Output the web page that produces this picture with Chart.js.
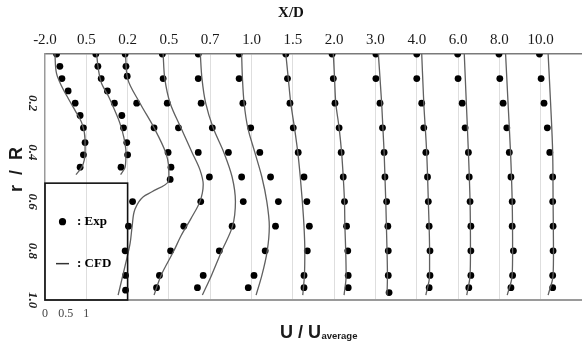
<!DOCTYPE html>
<html><head><meta charset="utf-8">
<script src="https://cdn.jsdelivr.net/npm/chart.js@4.4.1/dist/chart.umd.min.js"></script>
<style>html,body{margin:0;padding:0;background:#fff;}canvas{display:block;}</style>
</head><body>
<canvas id="c" width="582" height="347"></canvas>
<script>
// X/D station labels (one profile per station, each shifted by one unit)
const stations = ['-2.0','0.5','0.2','0.5','0.7','1.0','1.5','2.0','3.0','4.0','6.0','8.0','10.0'];
const yTicks = [0.2, 0.4, 0.6, 0.8, 1.0];
const uTicks = [0, 0.5, 1];

// r/R positions of the experimental points
const rExpNear = [0,0.05,0.1,0.15,0.2,0.25,0.3,0.36,0.41,0.46];
const rExp02   = [0,0.05,0.09,0.2,0.3,0.4,0.46,0.51,0.6,0.7,0.8,0.9,0.96];
const rExpFar  = [0,0.1,0.2,0.3,0.4,0.5,0.6,0.7,0.8,0.9,0.95];
const rExp30   = [0,0.1,0.2,0.3,0.4,0.5,0.6,0.7,0.8,0.9,0.97];

// Exp: U/Uaverage (relative to each station's base line)
const expU0  = [0.28,0.36,0.41,0.56,0.73,0.85,0.93,0.97,0.93,0.85];
const expU1  = [0.23,0.28,0.36,0.51,0.68,0.86,0.90,0.98,1.00,0.84];
const expU2  = [-0.06,-0.04,-0.01,0.22,0.64,0.98,1.05,1.03,0.12,0.02,-0.06,-0.05,-0.05];
const expU3  = [-0.16,-0.14,-0.04,0.23,0.71,0.98,0.77,0.36,0.04,-0.23,-0.30];
const expU4  = [-0.29,-0.29,-0.22,0.05,0.44,0.76,0.80,0.53,0.22,-0.17,-0.31];
const expU5  = [-0.30,-0.30,-0.21,-0.02,0.20,0.46,0.65,0.58,0.33,0.06,-0.08];
const expU6  = [-0.17,-0.13,-0.07,0.01,0.13,0.27,0.34,0.40,0.35,0.27,0.27];
const expU7  = [-0.05,-0.02,0.02,0.12,0.17,0.22,0.25,0.30,0.33,0.34,0.34];
const expU8  = [0.01,0.01,0.11,0.17,0.21,0.23,0.27,0.30,0.31,0.31,0.33];
const expU9  = [0.00,0.00,0.12,0.17,0.22,0.26,0.28,0.30,0.32,0.32,0.30];
const expU10 = [-0.01,0.00,0.10,0.17,0.25,0.27,0.29,0.31,0.31,0.31,0.26];
const expU11 = [-0.01,0.01,0.09,0.18,0.24,0.28,0.31,0.31,0.34,0.32,0.28];
const expU12 = [-0.03,0.01,0.08,0.16,0.22,0.29,0.29,0.30,0.30,0.29,0.29];

// CFD: r/R positions and U/Uaverage
const cfdR0 = [0,0.08,0.13,0.18,0.23,0.28,0.35,0.40,0.46,0.49];
const cfdU0 = [0.24,0.28,0.40,0.56,0.73,0.89,0.97,0.97,0.89,0.75];
const cfdR1 = [0,0.06,0.12,0.17,0.23,0.28,0.34,0.40,0.46,0.49];
const cfdU1 = [0.25,0.29,0.37,0.53,0.69,0.81,0.91,0.96,0.94,0.83];
const cfdR2 = [0,0.1,0.2,0.3,0.4,0.45,0.5,0.52,0.56,0.58,0.63,0.7,0.77,0.86,0.98];
const cfdU2 = [-0.05,0.00,0.30,0.64,0.92,0.99,1.00,0.98,0.59,0.38,0.18,0.11,0.06,-0.06,-0.23];
const cfdR3 = [0,0.1,0.2,0.3,0.4,0.47,0.53,0.6,0.67,0.74,0.8,0.9,0.98];
const cfdU3 = [-0.14,-0.10,0.03,0.29,0.56,0.75,0.83,0.75,0.53,0.29,0.12,-0.19,-0.36];
const cfdRFar  = [0,0.1,0.2,0.3,0.4,0.5,0.6,0.7,0.8,0.9,0.98];
const cfdU4 = [-0.24,-0.20,-0.11,0.07,0.33,0.53,0.61,0.54,0.28,0.03,-0.19];
const cfdU5 = [-0.24,-0.22,-0.18,-0.09,0.08,0.25,0.37,0.43,0.38,0.25,0.11];
const cfdU6 = [-0.17,-0.11,-0.05,0.04,0.12,0.18,0.23,0.27,0.29,0.28,0.24];
const cfdU7 = [-0.02,0.01,0.04,0.12,0.18,0.22,0.25,0.26,0.28,0.29,0.24];
const cfdRTail = [0,0.2,0.4,0.6,0.8,0.9,0.98];
const cfdU8  = [0.07,0.15,0.21,0.25,0.28,0.29,0.28];
const cfdU9  = [0.12,0.17,0.24,0.28,0.31,0.31,0.22];
const cfdU10 = [0.15,0.20,0.25,0.29,0.30,0.29,0.21];
const cfdU11 = [0.15,0.21,0.27,0.31,0.32,0.31,0.19];
const cfdU12 = [0.18,0.24,0.29,0.30,0.31,0.30,0.18];

const expU = [expU0,expU1,expU2,expU3,expU4,expU5,expU6,expU7,expU8,expU9,expU10,expU11,expU12];
const expR = [rExpNear,rExpNear,rExp02,rExpFar,rExpFar,rExpFar,rExpFar,rExpFar,rExp30,rExpFar,rExpFar,rExpFar,rExpFar];
const cfdU = [cfdU0,cfdU1,cfdU2,cfdU3,cfdU4,cfdU5,cfdU6,cfdU7,cfdU8,cfdU9,cfdU10,cfdU11,cfdU12];
const cfdR = [cfdR0,cfdR1,cfdR2,cfdR3,cfdRFar,cfdRFar,cfdRFar,cfdRFar,cfdRTail,cfdRTail,cfdRTail,cfdRTail,cfdRTail];

const datasets = [];
stations.forEach((s, i) => {
  datasets.push({
    type: 'line', label: 'CFD ' + s, indexAxis: 'y', xAxisID: 'x', yAxisID: 'y',
    data: cfdR[i].map((r, k) => ({x: i + cfdU[i][k], y: r})),
    borderColor: '#606060', borderWidth: 1.3, pointRadius: 0, fill: false,
    cubicInterpolationMode: 'monotone'
  });
  datasets.push({
    type: 'line', label: 'Exp ' + s, xAxisID: 'x', yAxisID: 'y',
    data: expR[i].map((r, k) => ({x: i + expU[i][k], y: r})),
    showLine: false, pointRadius: 3.4, pointBackgroundColor: '#000', pointBorderWidth: 0
  });
});

const legendBox = {u0: 0, u1: 2, r0: 0.525, r1: 1.0};

const overlay = {
  id: 'overlay',
  afterDatasetsDraw(chart) {
    const {ctx} = chart; const x = chart.scales.x, y = chart.scales.y;
    const L = x.getPixelForValue(legendBox.u0), R = x.getPixelForValue(legendBox.u1);
    const T = y.getPixelForValue(legendBox.r0), B = y.getPixelForValue(legendBox.r1);
    ctx.save();
    ctx.strokeStyle = '#111'; ctx.lineWidth = 1.6;
    ctx.strokeRect(L, T, R - L, B - T);
    ctx.fillStyle = '#000';
    ctx.beginPath(); ctx.arc(L + 17.5, T + 38.5, 3.6, 0, 2 * Math.PI); ctx.fill();
    ctx.font = 'bold 13px "Liberation Serif"'; ctx.textBaseline = 'middle'; ctx.textAlign = 'left';
    ctx.fillText(': Exp', L + 32, T + 38.5);
    ctx.strokeStyle = '#333'; ctx.lineWidth = 1.5;
    ctx.beginPath(); ctx.moveTo(L + 11, T + 80.5); ctx.lineTo(L + 24, T + 80.5); ctx.stroke();
    ctx.fillText(': CFD', L + 32, T + 80);
    ctx.restore();
  },
  afterDraw(chart) {
    const {ctx} = chart;
    ctx.save();
    ctx.fillStyle = '#1a1a1a'; ctx.textBaseline = 'alphabetic'; ctx.textAlign = 'left';
    ctx.font = 'bold 18px "Liberation Sans"';
    const t1 = 'U / U'; const w = ctx.measureText(t1).width;
    ctx.fillText(t1, 280, 338);
    ctx.font = 'bold 9.5px "Liberation Sans"';
    ctx.fillText('average', 280 + w + 0.5, 339);
    ctx.restore();
  }
};

new Chart(document.getElementById('c'), {
  type: 'line',
  data: {datasets},
  options: {
    responsive: false, animation: false, devicePixelRatio: 1, events: [],
    layout: {padding: 0, autoPadding: false},
    plugins: {
      legend: {display: false}, tooltip: {enabled: false},
      title: {display: true, text: 'X/D', position: 'top', align: 'center',
        font: {family: 'Liberation Serif', size: 15, weight: 'bold'}, color: '#111',
        padding: {top: 4, bottom: 0}}
    },
    scales: {
      x: {
        type: 'linear', position: 'bottom', min: 0, max: 13,
        afterBuildTicks: s => { s.ticks = uTicks.map(v => ({value: v})); },
        afterFit: s => { s.height = 47; },
        ticks: {autoSkip: false, minRotation: 0, maxRotation: 0, padding: 7, color: '#444',
          font: {family: 'Liberation Serif', size: 12}, callback: v => String(v)},
        grid: {display: false, drawTicks: false},
        border: {display: true, color: '#9a9a9a', width: 2}
      },
      x2: {
        type: 'linear', axis: 'x', position: 'top', min: 0, max: 13,
        afterBuildTicks: s => { s.ticks = stations.map((_, i) => ({value: i})); },
        afterFit: s => { s.height = 32; },
        ticks: {autoSkip: false, minRotation: 0, maxRotation: 0, padding: 5, color: '#1a1a1a',
          font: {family: 'Liberation Serif', size: 15}, callback: (v, i) => stations[i]},
        grid: {display: true, drawTicks: false, lineWidth: 1,
          color: c => (c.tick && c.tick.value === 0) ? 'rgba(0,0,0,0)' : '#dedede'},
        border: {display: true, color: '#7a7a7a', width: 1.5}
      },
      y: {
        type: 'linear', position: 'left', min: 0, max: 1, reverse: true,
        afterBuildTicks: s => { s.ticks = yTicks.map(v => ({value: v})); },
        afterFit: s => { s.width = 45; },
        ticks: {minRotation: -90, maxRotation: -90, crossAlign: 'center', padding: 5, color: '#222',
          font: {family: 'Liberation Serif', size: 13, style: 'italic', weight: 'bold'},
          callback: v => v.toFixed(1)},
        grid: {display: false, drawTicks: false},
        border: {display: true, color: '#9a9a9a', width: 1.5},
        title: {display: true, text: '   r  /  R', color: '#1a1a1a', padding: {top: 6, bottom: 0},
          font: {family: 'Liberation Sans', size: 18, weight: 'bold'}}
      }
    }
  },
  plugins: [overlay]
});
</script></body></html>
